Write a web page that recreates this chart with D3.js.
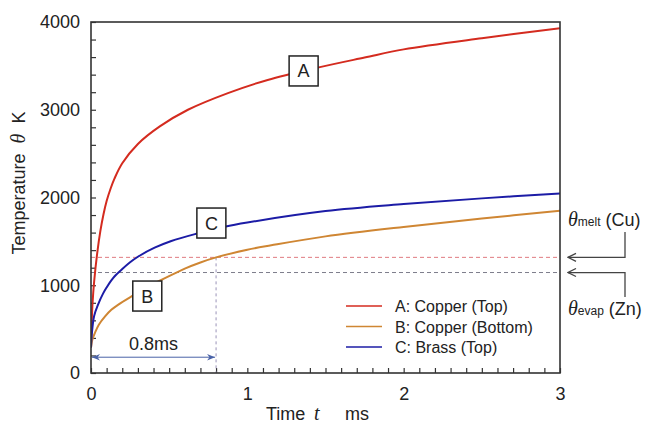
<!DOCTYPE html>
<html>
<head>
<meta charset="utf-8">
<script src="https://cdn.jsdelivr.net/npm/d3@7"></script>
<style>
  body { margin: 0; background: #fff; }
  text { font-family: "Liberation Sans", Arial, sans-serif; fill: #222; }
  .it { font-family: "Liberation Serif", "Times New Roman", serif; font-style: italic; }
</style>
</head>
<body>
<div id="chart"></div>
<script>
// curve data (time in ms, temperature in K)
var timeA = [0, 0.005, 0.01, 0.02, 0.04, 0.06, 0.08, 0.1, 0.125, 0.15, 0.2, 0.3, 0.44, 0.62, 0.876, 1.13, 1.45, 1.75, 2, 2.5, 3];
var tempA = [290, 600, 800, 1040, 1370, 1620, 1810, 1960, 2100, 2215, 2390, 2610, 2810, 3000, 3190, 3340, 3480, 3595, 3688, 3815, 3928];

var timeB = [0, 0.008, 0.026, 0.05, 0.09, 0.13, 0.175, 0.27, 0.35, 0.45, 0.6, 0.7, 0.8, 1, 1.153, 1.5, 2, 2.5, 3];
var tempB = [290, 375, 460, 550, 645, 720, 780, 885, 970, 1060, 1190, 1260, 1318, 1405, 1455, 1557, 1665, 1760, 1848];

var timeC = [0, 0.005, 0.02, 0.045, 0.077, 0.1, 0.13, 0.15, 0.2, 0.25, 0.3, 0.407, 0.514, 0.68, 0.855, 1, 1.5, 2, 2.5, 3];
var tempC = [290, 440, 650, 780, 905, 975, 1055, 1100, 1185, 1262, 1325, 1428, 1505, 1590, 1667, 1715, 1845, 1925, 1990, 2046];

var seriesNames = ["A: Copper (Top)", "B: Copper (Bottom)", "C: Brass (Top)"];
var seriesColors = ["#d42b1f", "#cf8633", "#1c1ca6"];
var boxLabels = ["A", "B", "C"];
var boxTime = [1.36, 0.36, 0.77];
var boxTemp = [3442, 877, 1709];

var meltTemp = 1318;   // theta_melt (Cu)
var evapTemp = 1145;   // theta_evap (Zn)
var markTime = 0.8;

var xTicks = d3.range(0, 31).map(function (i) { return i / 10; });
var yTicks = d3.range(0, 4001, 200);

var W = 647, H = 423;
var margin = {top: 22, right: 87, bottom: 50, left: 91};
var width = W - margin.left - margin.right;
var height = H - margin.top - margin.bottom;

var svg = d3.select("#chart").append("svg")
  .attr("width", W).attr("height", H);

var defs = svg.append("defs");
defs.append("clipPath").attr("id", "plot")
  .append("rect").attr("width", width).attr("height", height);
defs.append("marker").attr("id", "chev")
  .attr("viewBox", "0 0 10 10").attr("refX", 9).attr("refY", 5)
  .attr("markerWidth", 10).attr("markerHeight", 10)
  .attr("markerUnits", "userSpaceOnUse").attr("orient", "auto")
  .append("path").attr("d", "M1,1 L9,5 L1,9")
  .attr("fill", "none").attr("stroke", "#444").attr("stroke-width", 1.3);
defs.append("marker").attr("id", "tip")
  .attr("viewBox", "0 0 10 10").attr("refX", 10).attr("refY", 5)
  .attr("markerWidth", 8).attr("markerHeight", 8)
  .attr("markerUnits", "userSpaceOnUse").attr("orient", "auto-start-reverse")
  .append("path").attr("d", "M0,1 L10,5 L0,9 L3,5 Z")
  .attr("fill", "#4a63a8");

var g = svg.append("g")
  .attr("transform", "translate(" + margin.left + "," + margin.top + ")");

var x = d3.scaleLinear().domain([0, 3]).range([0, width]);
var y = d3.scaleLinear().domain([0, 4000]).range([height, 0]);

// axes with inward ticks
var xAxis = d3.axisBottom(x).tickValues(xTicks).tickSize(-5).tickPadding(14)
  .tickFormat(function (d) { return Number.isInteger(d) ? d : ""; });
var yAxis = d3.axisLeft(y).tickValues(yTicks).tickSize(-5).tickPadding(11)
  .tickFormat(function (d) { return d % 1000 === 0 ? d : ""; });

var gx = g.append("g").attr("transform", "translate(0," + height + ")").call(xAxis);
var gy = g.append("g").call(yAxis);
[gx, gy].forEach(function (a) {
  a.select(".domain").remove();
  a.selectAll(".tick line").attr("stroke", "#333").attr("stroke-width", 1.2);
  a.selectAll(".tick text").style("font-size", "18px").attr("fill", "#222")
    .style("font-family", "'Liberation Sans', Arial, sans-serif");
});

// reference lines
g.append("line").attr("x1", 0).attr("x2", width)
  .attr("y1", y(meltTemp)).attr("y2", y(meltTemp))
  .attr("stroke", "#e07a80").attr("stroke-width", 1).attr("stroke-dasharray", "4,3");
g.append("line").attr("x1", 0).attr("x2", width)
  .attr("y1", y(evapTemp)).attr("y2", y(evapTemp))
  .attr("stroke", "#7d7d8c").attr("stroke-width", 1).attr("stroke-dasharray", "4,3");
g.append("line").attr("x1", x(markTime)).attr("x2", x(markTime))
  .attr("y1", y(meltTemp)).attr("y2", height)
  .attr("stroke", "#9a94b8").attr("stroke-width", 1).attr("stroke-dasharray", "3,3");

// curves
var line = d3.line()
  .x(function (d) { return x(d[0]); })
  .y(function (d) { return y(d[1]); })
  .curve(d3.curveCatmullRom.alpha(0.5));
var series = [d3.zip(timeA, tempA), d3.zip(timeB, tempB), d3.zip(timeC, tempC)];
g.append("g").attr("clip-path", "url(#plot)")
  .selectAll(".curve").data(series).enter().append("path")
  .attr("class", "curve")
  .attr("d", line)
  .attr("fill", "none")
  .attr("stroke", function (d, i) { return seriesColors[i]; })
  .attr("stroke-width", 2);

// 0.8 ms span arrow
g.append("line").attr("x1", x(0) + 1).attr("x2", x(markTime) - 1)
  .attr("y1", y(180)).attr("y2", y(180))
  .attr("stroke", "#4a63a8").attr("stroke-width", 1)
  .attr("marker-start", "url(#tip)").attr("marker-end", "url(#tip)");
g.append("text").attr("x", x(markTime / 2)).attr("y", y(180) - 7)
  .attr("text-anchor", "middle").style("font-size", "18px").text("0.8ms");

// box labels
var boxes = g.selectAll(".box").data(boxLabels).enter().append("g")
  .attr("transform", function (d, i) { return "translate(" + x(boxTime[i]) + "," + y(boxTemp[i]) + ")"; });
boxes.append("rect").attr("x", -14.5).attr("y", -15).attr("width", 29).attr("height", 30)
  .attr("fill", "#fff").attr("stroke", "#222").attr("stroke-width", 1.5);
boxes.append("text").attr("text-anchor", "middle").attr("y", 6.5)
  .style("font-size", "18px").text(function (d) { return d; });

// frame
g.append("rect").attr("width", width).attr("height", height)
  .attr("fill", "none").attr("stroke", "#333").attr("stroke-width", 1.6);

// legend
var legend = g.append("g").attr("transform", "translate(" + (346 - margin.left) + "," + (306 - margin.top) + ")");
seriesNames.forEach(function (name, i) {
  legend.append("line").attr("x1", 0).attr("x2", 36)
    .attr("y1", i * 20.5).attr("y2", i * 20.5)
    .attr("stroke", seriesColors[i]).attr("stroke-width", 1.6);
  legend.append("text").attr("x", 49).attr("y", i * 20.5 + 6)
    .style("font-size", "16px").text(name);
});

// axis titles
svg.append("text").attr("transform", "translate(25,183) rotate(-90)")
  .attr("text-anchor", "middle").style("font-size", "18px")
  .call(function (t) {
    t.append("tspan").text("Temperature\u00a0\u00a0");
    t.append("tspan").attr("class", "it").style("font-size", "20px").text("\u03b8");
    t.append("tspan").text("\u00a0\u00a0K");
  });
var xt = svg.append("text").attr("y", 420).style("font-size", "18px");
xt.append("tspan").attr("x", 266).text("Time");
xt.append("tspan").attr("x", 314).attr("class", "it").style("font-size", "20px").text("t");
xt.append("tspan").attr("x", 345).text("ms");

// right side annotations
var rx = margin.left + width;
svg.append("text").attr("x", 568).attr("y", 226).style("font-size", "18px")
  .call(function (t) {
    t.append("tspan").attr("class", "it").style("font-size", "20px").text("\u03b8");
    t.append("tspan").style("font-size", "12px").text("melt");
    t.append("tspan").text(" (Cu)");
  });
svg.append("text").attr("x", 568).attr("y", 315).style("font-size", "18px")
  .call(function (t) {
    t.append("tspan").attr("class", "it").style("font-size", "20px").text("\u03b8");
    t.append("tspan").style("font-size", "12px").text("evap");
    t.append("tspan").text(" (Zn)");
  });
var ym = margin.top + y(meltTemp), ye = margin.top + y(evapTemp);
svg.append("path").attr("d", "M625,232 V" + ym + " H" + (rx + 8))
  .attr("fill", "none").attr("stroke", "#444").attr("stroke-width", 1.3)
  .attr("marker-end", "url(#chev)");
svg.append("path").attr("d", "M625,297 V" + ye + " H" + (rx + 8))
  .attr("fill", "none").attr("stroke", "#444").attr("stroke-width", 1.3)
  .attr("marker-end", "url(#chev)");
</script>
</body>
</html>
